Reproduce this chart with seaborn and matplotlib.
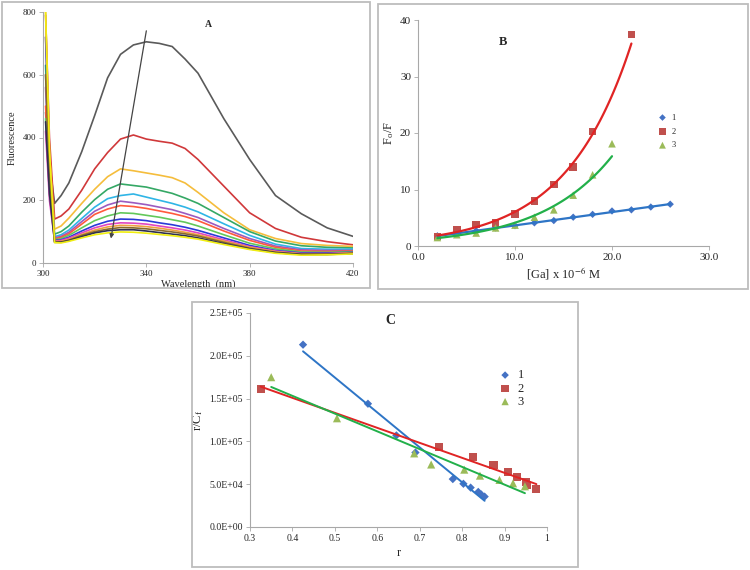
import numpy as np
import pandas as pd
import matplotlib
matplotlib.use('Agg')
import matplotlib.pyplot as plt
from matplotlib.patches import Rectangle
from matplotlib.ticker import FuncFormatter
import seaborn as sns

# ---- panel A: emission spectra ----
wavelength = [301, 302.5, 304.5, 307, 310, 315, 320, 325, 330, 335, 340, 345, 350,
              355, 360, 370, 380, 390, 400, 410, 420]
spec_gray = [480, 320, 190, 215, 255, 355, 470, 590, 665, 695, 705, 700, 690, 650, 605, 460, 330, 215, 157, 112, 85]
spec_red = [790, 400, 140, 150, 172, 232, 300, 352, 395, 408, 395, 388, 382, 365, 330, 245, 160, 110, 82, 68, 58]
spec_gold = [720, 350, 108, 118, 143, 190, 235, 275, 300, 294, 287, 280, 272, 255, 225, 160, 106, 78, 62, 56, 53]
spec_green = [630, 300, 92, 100, 118, 162, 202, 235, 252, 247, 242, 232, 222, 207, 190, 145, 100, 70, 55, 50, 48]
spec_cyan = [600, 280, 84, 90, 105, 142, 178, 205, 215, 220, 210, 200, 190, 178, 163, 125, 88, 60, 46, 44, 44]
spec_purple = [560, 260, 80, 85, 98, 132, 165, 185, 197, 192, 186, 178, 170, 158, 145, 110, 78, 54, 42, 40, 40]
spec_salmon = [500, 240, 77, 82, 93, 124, 155, 172, 183, 180, 174, 166, 158, 148, 135, 102, 72, 50, 38, 37, 38]
spec_lgreen = [460, 220, 74, 78, 88, 112, 135, 150, 160, 158, 152, 146, 138, 130, 118, 90, 63, 45, 35, 34, 36]
spec_blue = [720, 330, 72, 74, 82, 102, 120, 133, 140, 139, 135, 128, 122, 114, 104, 80, 56, 40, 32, 32, 34]
spec_magenta = [420, 200, 70, 72, 79, 96, 112, 123, 128, 127, 124, 118, 112, 105, 96, 74, 52, 38, 30, 30, 33]
spec_tan = [800, 350, 68, 69, 75, 91, 105, 115, 120, 119, 116, 111, 105, 98, 90, 70, 50, 36, 29, 29, 32]
spec_olive = [600, 280, 67, 67, 73, 88, 100, 108, 113, 112, 109, 104, 99, 93, 86, 66, 47, 34, 28, 28, 31]
spec_dark = [450, 220, 66, 66, 71, 84, 96, 103, 106, 106, 102, 97, 92, 87, 80, 62, 45, 33, 27, 27, 30]
spec_yellow = [800, 360, 65, 64, 69, 80, 90, 96, 99, 98, 95, 91, 87, 82, 76, 59, 43, 31, 25, 26, 29]

spectra = [spec_gray, spec_red, spec_gold, spec_green, spec_cyan, spec_purple, spec_salmon,
           spec_lgreen, spec_blue, spec_magenta, spec_tan, spec_olive, spec_dark, spec_yellow]
spec_colors = ['#5a5a5a', '#d0383a', '#f5bd3c', '#35a865', '#2fb5e6', '#9b5bc0', '#ff5a3c',
               '#63c85a', '#2a3ad8', '#e045c0', '#f0a040', '#8a6a2a', '#2f3050', '#f0ee10']

# ---- panel B: Fo/F vs [Ga] ----
b1_x = [2, 4, 6, 8, 10, 12, 14, 16, 18, 20, 22, 24, 26]
b1_y = [1.8, 2.2, 2.7, 3.2, 3.6, 4.1, 4.5, 5.1, 5.6, 6.2, 6.4, 6.9, 7.4]
b2_x = [2, 4, 6, 8, 10, 12, 14, 16, 18, 22]
b2_y = [1.7, 2.8, 3.8, 4.1, 5.7, 8.0, 10.9, 14.0, 20.3, 37.4]
b3_x = [2, 4, 6, 8, 10, 12, 14, 16, 18, 20]
b3_y = [1.5, 2.0, 2.3, 3.2, 3.7, 5.1, 6.4, 9.0, 12.6, 18.1]

# ---- panel C: Scatchard plot ----
c1_x = [0.425, 0.578, 0.645, 0.690, 0.778, 0.803, 0.820, 0.838, 0.845, 0.853]
c1_y = [2.13e5, 1.44e5, 1.07e5, 0.87e5, 0.56e5, 0.505e5, 0.46e5, 0.41e5, 0.38e5, 0.355e5]
c2_x = [0.325, 0.745, 0.826, 0.874, 0.909, 0.930, 0.951, 0.953, 0.975]
c2_y = [1.61e5, 0.93e5, 0.82e5, 0.725e5, 0.645e5, 0.58e5, 0.525e5, 0.49e5, 0.44e5]
c3_x = [0.350, 0.505, 0.687, 0.727, 0.805, 0.842, 0.888, 0.920, 0.948]
c3_y = [1.75e5, 1.27e5, 0.86e5, 0.73e5, 0.67e5, 0.60e5, 0.55e5, 0.51e5, 0.475e5]

sns.set_theme(style='white')
plt.rcParams['font.family'] = ['Liberation Serif', 'DejaVu Serif']
plt.rcParams['mathtext.fontset'] = 'stix'

fig = plt.figure(figsize=(7.5, 5.7), dpi=100)
W, H = 750, 570


def px_axes(x0, x1, y_top, y_bot):
    return fig.add_axes([x0 / W, 1 - y_bot / H, (x1 - x0) / W, (y_bot - y_top) / H])


def frame(x0, y0, x1, y1):
    fig.add_artist(Rectangle((x0 / W, 1 - y1 / H), (x1 - x0) / W, (y1 - y0) / H,
                             transform=fig.transFigure, fill=False, ec='#bdbdbd', lw=1.3))


def style(ax, size):
    sns.despine(ax=ax)
    for s in ('left', 'bottom'):
        ax.spines[s].set_color('#a8a8a8')
        ax.spines[s].set_linewidth(0.8)
    ax.tick_params(axis='both', direction='out', length=3, width=0.6, color='#a8a8a8',
                   labelsize=size, pad=2, bottom=True, left=True)
    ax.grid(False)


frame(2, 2, 370, 288)
frame(378, 4, 748, 289)
frame(192, 302, 578, 567)

# panel A
axA = px_axes(43, 353, 12, 263)
dfA = pd.DataFrame({
    'wl': np.tile(wavelength, len(spectra)),
    'F': np.concatenate(spectra),
    'curve': np.repeat(np.arange(len(spectra)), len(wavelength)),
})
sns.lineplot(data=dfA, x='wl', y='F', hue='curve', palette=spec_colors, estimator=None,
             sort=False, lw=1.2, legend=False, ax=axA)
axA.set_xlim(300, 420)
axA.set_ylim(0, 800)
axA.set_xticks([300, 340, 380, 420])
axA.set_yticks([0, 200, 400, 600, 800])
style(axA, 6.5)
axA.set_xlabel('Wavelength  (nm)', fontsize=7.5, labelpad=1)
axA.set_ylabel('Fluorescence', fontsize=7.5, labelpad=4)
axA.annotate('', xy=(326.3, 78), xytext=(340, 740),
             arrowprops=dict(arrowstyle='-|>', color='#444444', lw=0.9,
                             mutation_scale=6, shrinkA=0, shrinkB=0))
axA.text(364, 760, 'A', fontsize=7, fontweight='bold', ha='center', va='center')

# panel B
axB = px_axes(418, 709, 20, 246)
sns.scatterplot(x=b1_x, y=b1_y, marker='D', color='#4472c4', s=14, edgecolor='none', label='1', ax=axB)
sns.scatterplot(x=b2_x, y=b2_y, marker='s', color='#c0504d', s=30, edgecolor='none', label='2', ax=axB)
sns.scatterplot(x=b3_x, y=b3_y, marker='^', color='#9bbb59', s=30, edgecolor='none', label='3', ax=axB)
fit_colors = ['#2e75c6', '#e02424', '#22b04a']
for (xs, ys, kind, end), col in zip([(b1_x, b1_y, 'lin', 26), (b2_x, b2_y, 'exp', 22),
                                      (b3_x, b3_y, 'exp', 20)], fit_colors):
    xx = np.linspace(min(xs), end, 100)
    if kind == 'lin':
        k, b = np.polyfit(xs, ys, 1)
        yy = k * xx + b
    else:
        k, b = np.polyfit(xs, np.log(ys), 1)
        yy = np.exp(k * xx + b)
    axB.plot(xx, yy, color=col, lw=1.6, zorder=1)
axB.set_xlim(0, 30)
axB.set_ylim(0, 40)
axB.set_xticks([0, 10, 20, 30])
axB.set_yticks([0, 10, 20, 30, 40])
axB.xaxis.set_major_formatter(FuncFormatter(lambda v, p: f'{v:.1f}'))
style(axB, 8)
axB.set_xlabel('[Ga] x 10$^{-6}$ M', fontsize=9, labelpad=2)
axB.set_ylabel('F$_\\mathregular{o}$/F', fontsize=9, labelpad=3)
axB.text(8.8, 36.1, 'B', fontsize=9, fontweight='bold', ha='center', va='center')
axB.legend(frameon=False, fontsize=6, loc='upper left', bbox_to_anchor=(0.8, 0.6),
           handletextpad=0.1, labelspacing=0.7, borderaxespad=0, markerscale=0.9)

# panel C
axC = px_axes(250, 547, 313, 527)
sns.scatterplot(x=c1_x, y=c1_y, marker='D', color='#4472c4', s=18, edgecolor='none', label='1', ax=axC)
sns.scatterplot(x=c2_x, y=c2_y, marker='s', color='#c0504d', s=34, edgecolor='none', label='2', ax=axC)
sns.scatterplot(x=c3_x, y=c3_y, marker='^', color='#9bbb59', s=34, edgecolor='none', label='3', ax=axC)
for xs, ys, col in zip([c1_x, c2_x, c3_x], [c1_y, c2_y, c3_y], fit_colors):
    k, b = np.polyfit(xs, ys, 1)
    xx = np.array([min(xs), max(xs)])
    axC.plot(xx, k * xx + b, color=col, lw=1.4, zorder=1)
axC.set_xlim(0.3, 1.0)
axC.set_ylim(0, 2.5e5)
axC.set_xticks([0.3, 0.4, 0.5, 0.6, 0.7, 0.8, 0.9, 1.0])
axC.set_yticks([0, 0.5e5, 1.0e5, 1.5e5, 2.0e5, 2.5e5])
axC.xaxis.set_major_formatter(FuncFormatter(lambda v, p: f'{v:g}'))
axC.yaxis.set_major_formatter(FuncFormatter(lambda v, p: f'{v:.1E}'))
style(axC, 7)
axC.set_xlabel('r', fontsize=9, labelpad=3)
axC.set_ylabel('r/C$_\\mathregular{f}$', fontsize=9, labelpad=3)
axC.text(0.63, 2.41e5, 'C', fontsize=10, fontweight='bold', ha='center', va='center')
axC.legend(frameon=False, fontsize=9, loc='upper left', bbox_to_anchor=(0.8, 0.76),
           handletextpad=0.0, labelspacing=0.1, borderaxespad=0, markerscale=0.9)

fig.savefig('out.png', dpi=100)
